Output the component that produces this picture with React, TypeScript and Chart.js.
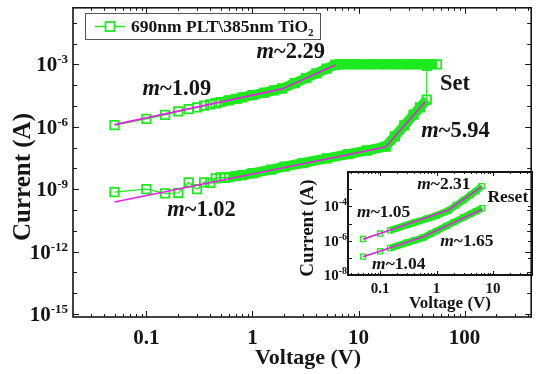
import React, { useEffect, useRef } from 'react';
import { Chart, registerables } from 'chart.js';

Chart.register(...registerables);

// ---------------- data ----------------
// Main plot: low-resistance sweep (upper curve, ends in compliance)
const lrsV = [0.05, 0.1, 0.15, 0.2, 0.25, 0.3, 0.35, 0.4, 0.45, 0.5, 0.6, 0.7, 0.8, 1.0, 1.3, 1.6, 1.9, 2.5, 3.2, 4.0, 5.0, 6.0, 6.5, 8, 10, 13, 17, 22, 28, 35, 44, 55];
const lrsI = [1.2e-6, 2.4e-6, 3.7e-6, 5.5e-6, 7.0e-6, 8.6e-6, 1.03e-5, 1.18e-5, 1.35e-5, 1.52e-5, 1.85e-5, 2.2e-5, 2.6e-5, 3.3e-5, 4.4e-5, 5.6e-5, 6.9e-5, 1.25e-4, 2.2e-4, 3.7e-4, 6.2e-4, 9.3e-4, 1.0e-3, 1.0e-3, 1.0e-3, 1.0e-3, 1.0e-3, 1.0e-3, 1.0e-3, 1.0e-3, 1.0e-3, 1.0e-3];
// Main plot: high-resistance sweep (lower curve, ends with the Set jump)
const hrsV = [0.05, 0.1, 0.15, 0.2, 0.25, 0.3, 0.35, 0.4, 0.45, 0.5, 0.55, 0.6, 0.7, 0.8, 1.0, 1.5, 2, 3, 5, 8, 12, 18, 22, 27, 33, 38, 44, 44];
const hrsI = [7.2e-10, 1.0e-9, 6.3e-10, 6.5e-10, 2.1e-9, 1.0e-9, 2.1e-9, 2.0e-9, 3.3e-9, 3.7e-9, 3.5e-9, 3.8e-9, 4.2e-9, 4.7e-9, 5.8e-9, 8.7e-9, 1.2e-8, 1.8e-8, 3.0e-8, 4.8e-8, 7.2e-8, 1.1e-7, 3.4e-7, 1.15e-6, 3.8e-6, 8.5e-6, 2.0e-5, 8.5e-4];
// Main plot: power-law fits
const lrsFitV = [0.05, 1.9, 6.1];
const lrsFitI = [1.26e-6, 6.6e-5, 9.5e-4];
const hrsFitV = [0.05, 18, 42.5];
const hrsFitI = [2.4e-10, 1.05e-7, 1.6e-5];

// Inset: two reset sweeps
const insetUpV = [0.05, 0.1, 0.15, 0.2, 0.3, 0.4, 0.5, 0.7, 1.0, 1.6, 2.2, 3.0, 4.0, 5.0, 6.3];
const insetUpI = [1.26e-6, 2.6e-6, 4.0e-6, 5.4e-6, 8.3e-6, 1.12e-5, 1.4e-5, 2.0e-5, 2.9e-5, 5.5e-5, 1.15e-4, 2.3e-4, 4.6e-4, 7.6e-4, 1.5e-3];
const insetLowV = [0.05, 0.1, 0.15, 0.2, 0.3, 0.4, 0.58, 0.8, 1.0, 1.5, 2.0, 3.0, 4.0, 5.0, 6.4];
const insetLowI = [1.17e-7, 2.4e-7, 3.7e-7, 5.0e-7, 7.6e-7, 1.02e-6, 1.5e-6, 2.6e-6, 3.7e-6, 7.2e-6, 1.18e-5, 2.3e-5, 3.6e-5, 5.2e-5, 7.9e-5];
const insetUpFitV = [0.05, 1.6, 6.3];
const insetUpFitI = [1.2e-6, 5.9e-5, 1.4e-3];
const insetLowFitV = [0.05, 0.58, 6.4];
const insetLowFitI = [1.17e-7, 1.7e-6, 6.8e-5];

// Tick labels
const xTickValues = [0.1, 1, 10, 100];
const xTickLabels = ['0.1', '1', '10', '100'];
const yTickExponents = [-3, -6, -9, -12, -15];
const insetXTickValues = [0.1, 1, 10];
const insetXTickLabels = ['0.1', '1', '10'];
const insetYTickExponents = [-4, -6, -8];

const legendLabel = '690nm PLT\\385nm TiO';
const legendSub = '2';

// ---------------- styling ----------------
const SERIF = '"Liberation Serif", "Times New Roman", serif';
const GREEN = '#1ee81e';
const PINK = '#e81ee8';
const INK = '#151515';

type Part = { t: string; italic?: boolean; size?: number; dy?: number };

function fontOf(p: Part, size: number) {
  return `${p.italic ? 'italic ' : ''}bold ${p.size || size}px ${SERIF}`;
}
function drawRich(ctx: CanvasRenderingContext2D, parts: Part[], x: number, baseline: number, size: number, align: 'left' | 'center' | 'right') {
  let w = 0;
  for (const p of parts) { ctx.font = fontOf(p, size); w += ctx.measureText(p.t).width; }
  let cx = align === 'left' ? x : align === 'center' ? x - w / 2 : x - w;
  ctx.textBaseline = 'alphabetic';
  ctx.textAlign = 'left';
  for (const p of parts) {
    ctx.font = fontOf(p, size);
    ctx.fillText(p.t, cx, baseline + (p.dy || 0));
    cx += ctx.measureText(p.t).width;
  }
}
function mText(value: string): Part[] {
  return [{ t: 'm', italic: true }, { t: '~' + value }];
}

const pts = (vs: number[], is: number[]) => vs.map((v, i) => ({ x: v, y: is[i] }));

// annotation anchors in data coordinates (left edge, vertical centre)
const mainNotes = [
  { parts: mText('1.09'), v: 0.092, i: 7.2e-5 },
  { parts: mText('2.29'), v: 1.09, i: 4.2e-3 },
  { parts: [{ t: 'Set' }] as Part[], v: 58.6, i: 1.24e-4 },
  { parts: mText('5.94'), v: 39, i: 7.2e-7 },
  { parts: mText('1.02'), v: 0.157, i: 1.1e-10 },
];
const insetNotes = [
  { parts: mText('2.31'), v: 0.454, i: 1.9e-3 },
  { parts: [{ t: 'Reset' }] as Part[], v: 7.95, i: 3.3e-4 },
  { parts: mText('1.05'), v: 0.039, i: 4.5e-5 },
  { parts: mText('1.65'), v: 1.16, i: 9.2e-7 },
  { parts: mText('1.04'), v: 0.072, i: 4.2e-8 },
];

// densely sampled stretches, where overlapping squares merge into a solid band
type Band = { vs: number[]; is: number[]; from: number; to: number; width: number };
const mainBands: Band[] = [
  { vs: lrsV, is: lrsI, from: 9, to: lrsV.length, width: 10 },
  { vs: hrsV, is: hrsI, from: 11, to: hrsV.length - 1, width: 10 },
];
const insetBands: Band[] = [
  { vs: insetUpV, is: insetUpI, from: 2, to: insetUpV.length, width: 7 },
  { vs: insetLowV, is: insetLowI, from: 2, to: insetLowV.length, width: 7 },
];

function bandPlugin(bands: Band[]) {
  return {
    id: 'bands',
    beforeDatasetsDraw(chart: any) {
      const ctx: CanvasRenderingContext2D = chart.ctx;
      const a = chart.chartArea;
      const sx = chart.scales.x, sy = chart.scales.y;
      ctx.save();
      ctx.beginPath();
      ctx.rect(a.left, a.top, a.right - a.left, a.bottom - a.top);
      ctx.clip();
      ctx.strokeStyle = GREEN;
      ctx.lineJoin = 'round';
      ctx.lineCap = 'butt';
      for (const b of bands) {
        ctx.lineWidth = b.width;
        ctx.beginPath();
        for (let k = b.from; k < b.to; k++) {
          const px = sx.getPixelForValue(b.vs[k]);
          const py = sy.getPixelForValue(b.is[k]);
          if (k === b.from) ctx.moveTo(px, py); else ctx.lineTo(px, py);
        }
        ctx.stroke();
      }
      ctx.restore();
    },
  };
}

function drawLogTicks(ctx: CanvasRenderingContext2D, chart: any, majorX: number, minorX: number, majorY: number, minorY: number, yMajorEvery: number) {
  const a = chart.chartArea;
  const sx = chart.scales.x, sy = chart.scales.y;
  ctx.strokeStyle = INK;
  ctx.lineWidth = 1;
  ctx.beginPath();
  for (let k = -3; k <= 3; k++) {
    for (let m = 1; m <= 9; m++) {
      const v = m * Math.pow(10, k);
      if (v < sx.min || v > sx.max) continue;
      const px = Math.round(sx.getPixelForValue(v)) + 0.5;
      const len = m === 1 ? majorX : minorX;
      ctx.moveTo(px, a.bottom); ctx.lineTo(px, a.bottom - len);
      ctx.moveTo(px, a.top); ctx.lineTo(px, a.top + len);
    }
  }
  for (let k = -16; k <= 1; k++) {
    const v = Math.pow(10, k);
    if (v < sy.min || v > sy.max) continue;
    const py = Math.round(sy.getPixelForValue(v)) + 0.5;
    const len = k % yMajorEvery === 0 ? majorY : minorY;
    ctx.moveTo(a.left, py); ctx.lineTo(a.left + len, py);
    ctx.moveTo(a.right, py); ctx.lineTo(a.right - len, py);
  }
  ctx.stroke();
}

const mainDecor = {
  id: 'mainDecor',
  afterDraw(chart: any) {
    const ctx: CanvasRenderingContext2D = chart.ctx;
    const a = chart.chartArea;
    const sx = chart.scales.x, sy = chart.scales.y;
    ctx.save();
    ctx.fillStyle = INK;
    ctx.strokeStyle = INK; ctx.lineWidth = 1.6;
    ctx.strokeRect(a.left, a.top, a.right - a.left, a.bottom - a.top);
    drawLogTicks(ctx, chart, 6, 3, 6, 4, 3);
    xTickValues.forEach((v, i) => {
      drawRich(ctx, [{ t: xTickLabels[i] }], sx.getPixelForValue(v), a.bottom + 27, 21, 'center');
    });
    yTickExponents.forEach((e) => {
      const py = sy.getPixelForValue(Math.pow(10, e));
      drawRich(ctx, [{ t: '10' }, { t: '-' + Math.abs(e), size: 13, dy: -8 }], a.left - 5, py + 7, 21, 'right');
    });
    drawRich(ctx, [{ t: 'Voltage (V)' }], 308, 364, 22, 'center');
    ctx.save();
    ctx.translate(30, 177);
    ctx.rotate(-Math.PI / 2);
    drawRich(ctx, [{ t: 'Current (A)' }], 0, 0, 25, 'center');
    ctx.restore();
    // legend
    ctx.strokeStyle = '#555'; ctx.lineWidth = 1;
    ctx.strokeRect(85.5, 13.5, 235, 26);
    ctx.strokeStyle = GREEN; ctx.lineWidth = 1.5;
    ctx.beginPath(); ctx.moveTo(95, 26.5); ctx.lineTo(125, 26.5); ctx.stroke();
    ctx.fillStyle = '#fff'; ctx.fillRect(105.5, 22, 9, 9);
    ctx.lineWidth = 1.8; ctx.strokeRect(105.5, 22, 9, 9);
    ctx.fillStyle = INK;
    drawRich(ctx, [{ t: legendLabel }, { t: legendSub, size: 11, dy: 4 }], 131, 32, 17.5, 'left');
    mainNotes.forEach((n) => {
      drawRich(ctx, n.parts, sx.getPixelForValue(n.v), sy.getPixelForValue(n.i) + 7, 22.5, 'left');
    });
    ctx.restore();
  },
};

const insetDecor = {
  id: 'insetDecor',
  afterDraw(chart: any) {
    const ctx: CanvasRenderingContext2D = chart.ctx;
    const a = chart.chartArea;
    const sx = chart.scales.x, sy = chart.scales.y;
    ctx.save();
    ctx.fillStyle = INK;
    ctx.strokeStyle = INK; ctx.lineWidth = 2;
    ctx.strokeRect(a.left, a.top, a.right - a.left, a.bottom - a.top);
    drawLogTicks(ctx, chart, 4, 2, 4, 4, 2);
    insetXTickValues.forEach((v, i) => {
      drawRich(ctx, [{ t: insetXTickLabels[i] }], sx.getPixelForValue(v), a.bottom + 18, 15, 'center');
    });
    insetYTickExponents.forEach((e) => {
      const py = sy.getPixelForValue(Math.pow(10, e));
      drawRich(ctx, [{ t: '10' }, { t: '-' + Math.abs(e), size: 10, dy: -6 }], a.left - 1, py + 5, 15, 'right');
    });
    drawRich(ctx, [{ t: 'Voltage (V)' }], 160, 148, 17, 'center');
    ctx.save();
    ctx.translate(23, 68);
    ctx.rotate(-Math.PI / 2);
    drawRich(ctx, [{ t: 'Current (A)' }], 0, 0, 19, 'center');
    ctx.restore();
    insetNotes.forEach((n) => {
      drawRich(ctx, n.parts, sx.getPixelForValue(n.v), sy.getPixelForValue(n.i) + 5, 17.5, 'left');
    });
    ctx.restore();
  },
};

// measured points: hollow squares joined by a thin line
function markerSet(vs: number[], is: number[], radius: number) {
  return {
    data: pts(vs, is),
    borderColor: GREEN,
    borderWidth: 1.2,
    pointStyle: 'rect',
    pointRadius: radius,
    pointBorderColor: GREEN,
    pointBackgroundColor: 'rgba(0,0,0,0)',
    pointBorderWidth: radius > 5 ? 1.8 : 1.3,
    tension: 0,
    order: 2,
  };
}
function fitSet(vs: number[], is: number[]) {
  return {
    data: pts(vs, is),
    borderColor: PINK,
    borderWidth: 1.6,
    pointRadius: 0,
    tension: 0,
    order: 0,
  };
}

export default function App() {
  const mainRef = useRef<HTMLCanvasElement>(null);
  const insetRef = useRef<HTMLCanvasElement>(null);

  useEffect(() => {
    const common = { type: 'logarithmic', ticks: { display: false }, grid: { display: false, drawTicks: false }, border: { display: false } };
    const main = new Chart(mainRef.current as HTMLCanvasElement, {
      type: 'line',
      data: {
        datasets: [
          fitSet(lrsFitV, lrsFitI),
          fitSet(hrsFitV, hrsFitI),
          markerSet(lrsV, lrsI, 6),
          markerSet(hrsV, hrsI, 6),
        ] as any,
      },
      options: {
        responsive: false,
        animation: false,
        events: [],
        layout: { padding: { left: 0, top: 5, right: 5, bottom: 0 } },
        plugins: { legend: { display: false }, tooltip: { enabled: false } },
        scales: {
          x: { ...common, position: 'bottom', min: 0.0203, max: 425, afterFit: (s: any) => { s.height = 57; } },
          y: { ...common, position: 'left', min: Math.pow(10, -15.15), max: Math.pow(10, -0.28), afterFit: (s: any) => { s.width = 73; } },
        } as any,
      },
      plugins: [bandPlugin(mainBands), mainDecor],
    } as any);

    const inset = new Chart(insetRef.current as HTMLCanvasElement, {
      type: 'line',
      data: {
        datasets: [
          fitSet(insetUpFitV, insetUpFitI),
          fitSet(insetLowFitV, insetLowFitI),
          markerSet(insetUpV, insetUpI, 3.6),
          markerSet(insetLowV, insetLowI, 3.6),
        ] as any,
      },
      options: {
        responsive: false,
        animation: false,
        events: [],
        layout: { padding: { left: 0, top: 12, right: 7, bottom: 0 } },
        plugins: { legend: { display: false }, tooltip: { enabled: false } },
        scales: {
          x: { ...common, position: 'bottom', min: 0.027, max: 49, afterFit: (s: any) => { s.height = 45; } },
          y: { ...common, position: 'left', min: 1e-8, max: 1e-2, afterFit: (s: any) => { s.width = 58; } },
        } as any,
      },
      plugins: [bandPlugin(insetBands), insetDecor],
    } as any);

    return () => { main.destroy(); inset.destroy(); };
  }, []);

  return (
    <div style={{ position: 'absolute', left: 0, top: 0, width: 539, height: 374, background: '#fff', overflow: 'hidden' }}>
      <canvas ref={mainRef} width={539} height={374} style={{ position: 'absolute', left: 0, top: 0, width: 539, height: 374 }} />
      <canvas ref={insetRef} width={249} height={160} style={{ position: 'absolute', left: 290, top: 160, width: 249, height: 160 }} />
    </div>
  );
}
